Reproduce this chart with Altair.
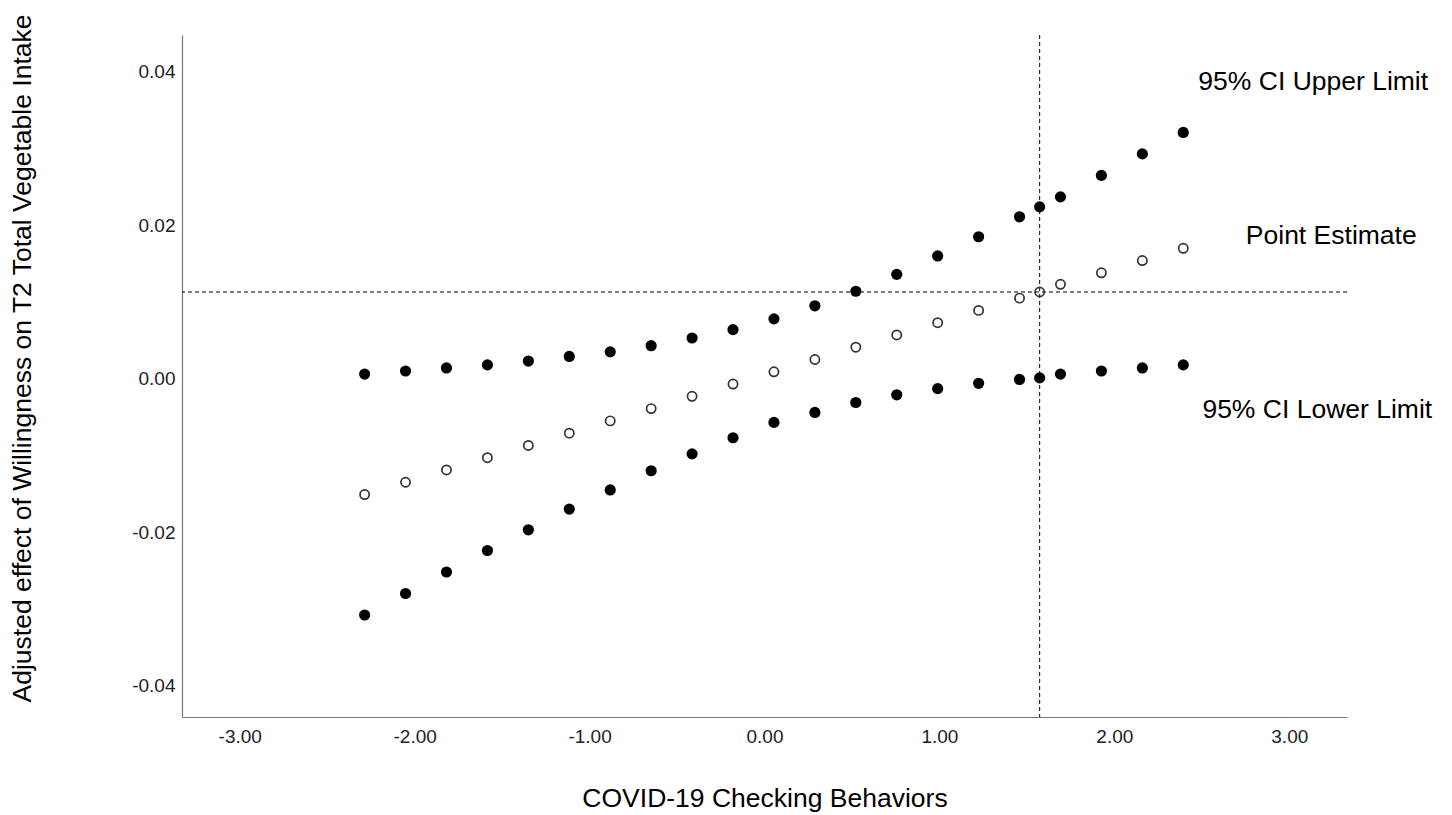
import altair as alt
import pandas as pd

# ---- data ----
x_vals = [-2.286, -2.052, -1.818, -1.584, -1.350, -1.116, -0.882, -0.648, -0.414, -0.180,
          0.054, 0.288, 0.522, 0.756, 0.990, 1.224, 1.458, 1.573, 1.692, 1.926, 2.160, 2.394]
estimate = [-0.0151, -0.0135, -0.0119, -0.0103, -0.0087, -0.0071, -0.0055, -0.0039, -0.0023, -0.0007,
            0.0009, 0.0025, 0.0041, 0.0057, 0.0073, 0.0089, 0.0105, 0.0113, 0.0123, 0.0138, 0.0154, 0.0170]
upper = [0.0006, 0.0010, 0.0014, 0.0018, 0.0023, 0.0029, 0.0035, 0.0043, 0.0053, 0.0064,
         0.0078, 0.0095, 0.0114, 0.0136, 0.0160, 0.0185, 0.0211, 0.0224, 0.0237, 0.0265, 0.0293, 0.0321]
lower = [-0.0308, -0.0280, -0.0252, -0.0224, -0.0197, -0.0170, -0.0145, -0.0120, -0.0098, -0.0077,
         -0.0057, -0.0044, -0.0031, -0.0021, -0.0013, -0.0006, -0.0001, 0.0001, 0.0006, 0.0010, 0.0014, 0.0018]

jn_x = [1.573]
jn_y = [0.0113]

label_text = ["95% CI Upper Limit", "Point Estimate", "95% CI Lower Limit"]
label_x = [3.137, 3.24, 3.16]
label_y = [0.03865, 0.01856, -0.00413]

x_ticks = [-3, -2, -1, 0, 1, 2, 3]
y_ticks = [-0.04, -0.02, 0.0, 0.02, 0.04]

x_title = "COVID-19 Checking Behaviors"
y_title = "Adjusted effect of Willingness on T2 Total Vegetable Intake"

# ---- tables ----
bounds_df = pd.DataFrame({
    "x": x_vals + x_vals,
    "y": upper + lower,
})
est_df = pd.DataFrame({"x": x_vals, "y": estimate})
vline_df = pd.DataFrame({"x": jn_x})
hline_df = pd.DataFrame({"y": jn_y})
label_df = pd.DataFrame({"t": label_text, "x": label_x, "y": label_y})

FONT = "Liberation Sans"
W, H = 1165, 682
HYPHEN_EXPR = "replace(datum.label, '\u2212', '-')"

xscale = alt.Scale(domain=[-3.33, 3.33], nice=False, zero=False)
yscale = alt.Scale(domain=[-0.0441, 0.0448], nice=False, zero=False)

x_axis = alt.Axis(values=x_ticks, format=".2f", labelExpr=HYPHEN_EXPR, title=x_title, grid=False,
                  ticks=False, tickSize=0,
                  domainColor="#777777", domainWidth=1.2, labelFontSize=19, labelFont=FONT,
                  labelColor="#222222", labelPadding=10, labelFlush=False,
                  titleFont=FONT, titleFontSize=26.5, titleFontWeight="normal", titleColor="#000000",
                  titleX=W / 2, titleY=68, titleAlign="center")
y_axis = alt.Axis(values=y_ticks, format=".2f", labelExpr=HYPHEN_EXPR, title=y_title, grid=False,
                  ticks=False, tickSize=0,
                  domainColor="#777777", domainWidth=1.2, labelFontSize=19, labelFont=FONT,
                  labelColor="#222222", labelPadding=7, labelFlush=False,
                  titleFont=FONT, titleFontSize=26.5, titleFontWeight="normal", titleColor="#000000",
                  titleX=-160, titleY=323, titleAlign="center", titleBaseline="middle", titleAngle=270)

vrule = alt.Chart(vline_df).mark_rule(color="black", strokeWidth=1, strokeDash=[4, 3]).encode(
    x=alt.X("x:Q", scale=xscale, axis=x_axis)
)
hrule = alt.Chart(hline_df).mark_rule(color="black", strokeWidth=1, strokeDash=[4, 3]).encode(
    y=alt.Y("y:Q", scale=yscale, axis=y_axis)
)
filled = alt.Chart(bounds_df).mark_point(shape="circle", filled=True, color="black", size=125, opacity=1).encode(
    x=alt.X("x:Q", scale=xscale, axis=x_axis),
    y=alt.Y("y:Q", scale=yscale, axis=y_axis),
)
hollow = alt.Chart(est_df).mark_point(shape="circle", filled=False, color="#333333", size=85,
                                      strokeWidth=1.7, opacity=1).encode(
    x=alt.X("x:Q", scale=xscale, axis=x_axis),
    y=alt.Y("y:Q", scale=yscale, axis=y_axis),
)
labels = alt.Chart(label_df).mark_text(font=FONT, fontSize=26.5, color="black", align="center",
                                       baseline="middle").encode(
    x=alt.X("x:Q", scale=xscale, axis=x_axis),
    y=alt.Y("y:Q", scale=yscale, axis=y_axis),
    text="t:N",
)

chart = alt.layer(vrule, hrule, filled, hollow, labels).properties(
    width=W, height=H,
    autosize=alt.AutoSizeParams(type="none"),
    padding={"left": 174, "top": 27, "right": 90, "bottom": 96},
).configure_view(stroke=None)

chart.save("out.html", embed_options={"renderer": "svg", "actions": False})
